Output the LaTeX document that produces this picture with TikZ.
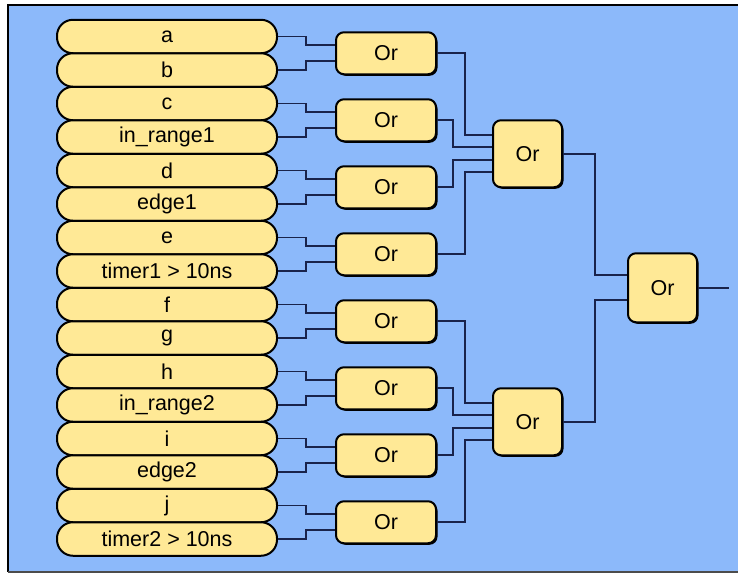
\documentclass[tikz,border=0pt]{standalone}
\usepackage{fontspec}
\setmainfont{Liberation Sans}
\usetikzlibrary{shadows}
\definecolor{bgblue}{RGB}{140,185,250}
\definecolor{pillyellow}{RGB}{255,233,150}
\definecolor{wirenavy}{RGB}{25,35,75}
\tikzset{
	% Two node styles for the chart: signal pills and Or gates
	input node/.style={rectangle,draw=black,line width=2pt,fill=pillyellow,rounded corners=16pt,minimum width=220pt,minimum height=33.5pt,inner sep=0pt},
	gate node/.style={rectangle,draw=black,line width=2pt,fill=pillyellow,rounded corners=8pt,inner sep=0pt,drop shadow={shadow xshift=1.5pt,shadow yshift=-1.5pt,fill=black,opacity=1}},
	wire/.style={draw=wirenavy,line width=1.6pt}
}

\begin{document}
\begin{tikzpicture}[x=1pt,y=-1pt,font=\fontsize{21.5}{25}\selectfont]
			% macro for inputing the signal pills
			\newcommand{\insig}[3]{\node[input node](#1)at(167,#2){#3};}
			% macro for a stepped wire: from node, run, shift at target, target
			\newcommand{\wire}[4]{\draw[wire](#1.east)--++(#2,0)|-([yshift=#3]#4.west);}
			
			% frame and background
			\useasboundingbox (0,0) rectangle (738,574);
			\fill[white] (0,0) rectangle (738,574);
			\fill[bgblue] (8,5) rectangle (738,572);
			\draw[line width=2pt] (738,5) -- (8,5) -- (8,572);
			\draw[line width=2pt,black!70] (8,572) -- (738,572);
			
			% Specify the gates of each level
			\node(g1)[gate node,minimum width=100pt,minimum height=42pt]at(386,53.25){Or};
			\node(g2)[gate node,minimum width=100pt,minimum height=42pt]at(386,120.25){Or};
			\node(g3)[gate node,minimum width=100pt,minimum height=42pt]at(386,187.25){Or};
			\node(g4)[gate node,minimum width=100pt,minimum height=42pt]at(386,254.25){Or};
			\node(g5)[gate node,minimum width=100pt,minimum height=42pt]at(386,321.25){Or};
			\node(g6)[gate node,minimum width=100pt,minimum height=42pt]at(386,388.25){Or};
			\node(g7)[gate node,minimum width=100pt,minimum height=42pt]at(386,455.25){Or};
			\node(g8)[gate node,minimum width=100pt,minimum height=42pt]at(386,522.25){Or};
			
			\node(g9)[gate node,minimum width=69pt,minimum height=67pt]at(527.5,153.75){Or};
			\node(g10)[gate node,minimum width=69pt,minimum height=67pt]at(527.5,421.75){Or};
			
			\node(g11)[gate node,minimum width=69pt,minimum height=69pt]at(662.5,287.75){Or};
			\coordinate(out) at (729,287.75);
			
			\wire{g1}{28}{18.5pt}{g9}
			\wire{g2}{16}{6.5pt}{g9}
			\wire{g3}{16}{-6pt}{g9}
			\wire{g4}{28}{-18.5pt}{g9}
			\wire{g5}{28}{18.5pt}{g10}
			\wire{g6}{16}{6.5pt}{g10}
			\wire{g7}{16}{-6pt}{g10}
			\wire{g8}{28}{-18.5pt}{g10}
			\wire{g9}{32}{12.5pt}{g11}
			\wire{g10}{32}{-12.5pt}{g11}
			\draw[wire](g11.east) -- (out);
			
			\insig{a}{36.5}{a}
			\insig{b}{70}{b}
			\insig{c}{103.5}{c}
			\insig{ir1}{137}{in\_range1}
			\insig{d}{170.5}{d}
			\insig{e1}{204}{edge1}
			\insig{e}{237.5}{e}
			\insig{t1}{271}{timer1 > 10ns}
			\insig{f}{304.5}{f}
			\insig{g}{338}{g}
			\insig{h}{371.5}{h}
			\insig{ir2}{405}{in\_range2}
			\insig{i}{438.5}{i}
			\insig{e2}{472}{edge2}
			\insig{j}{505.5}{j}
			\insig{t2}{539}{timer2 > 10ns}
			
			\wire{a}{28}{8pt}{g1}
			\wire{b}{28}{-8pt}{g1}
			\wire{c}{28}{8pt}{g2}
			\wire{ir1}{28}{-8pt}{g2}
			\wire{d}{28}{8pt}{g3}
			\wire{e1}{28}{-8pt}{g3}
			\wire{e}{28}{8pt}{g4}
			\wire{t1}{28}{-8pt}{g4}
			\wire{f}{28}{8pt}{g5}
			\wire{g}{28}{-8pt}{g5}
			\wire{h}{28}{8pt}{g6}
			\wire{ir2}{28}{-8pt}{g6}
			\wire{i}{28}{8pt}{g7}
			\wire{e2}{28}{-8pt}{g7}
			\wire{j}{28}{8pt}{g8}
			\wire{t2}{28}{-8pt}{g8}
		\end{tikzpicture}
\end{document}
